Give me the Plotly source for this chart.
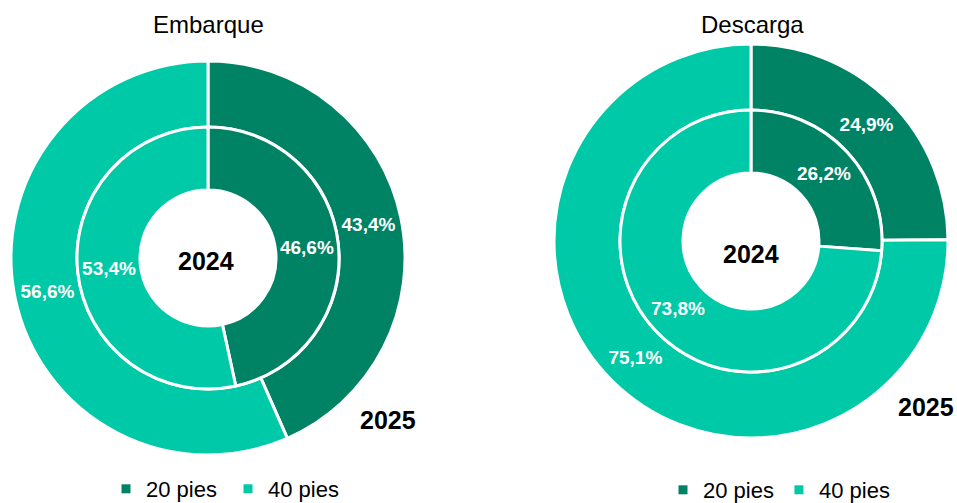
import plotly.graph_objects as go

# ---- data ----
categories = ["20 pies", "40 pies"]
embarque_2025 = [43.4, 56.6]
embarque_2024 = [46.6, 53.4]
descarga_2025 = [24.9, 75.1]
descarga_2024 = [26.2, 73.8]
panel_titles = ["Embarque", "Descarga"]
ring_labels = ["2024", "2025"]

colors = ["#008264", "#00C9A7"]
W, H = 957, 503


def fmt(vals):
    return [f"{v:.1f}".replace(".", ",") + "%" for v in vals]


def px(x, y):
    return x / W, 1 - y / H


def dom(cx, cy, r):
    x0, y1 = px(cx - r, cy - r)
    x1, y0 = px(cx + r, cy + r)
    return dict(x=[x0, x1], y=[y0, y1])


fig = go.Figure()

R_OUT, R_MID, R_IN = 197, 131, 68
panels = [
    (208, 258, embarque_2025, embarque_2024),
    (751, 241, descarga_2025, descarga_2024),
]

pctfont = dict(family="Liberation Sans, Arial", size=19, color="white", weight="bold")
for cx, cy, outer, inner in panels:
    fig.add_trace(go.Pie(
        labels=categories, values=outer, text=fmt(outer), textinfo="text",
        hole=R_MID / R_OUT, domain=dom(cx, cy, R_OUT), sort=False, direction="clockwise",
        rotation=0, marker=dict(colors=colors, line=dict(color="white", width=3)),
        textposition="inside", insidetextorientation="horizontal",
        textfont=pctfont, showlegend=False, hoverinfo="label+text",
    ))
    fig.add_trace(go.Pie(
        labels=categories, values=inner, text=fmt(inner), textinfo="text",
        hole=R_IN / R_MID, domain=dom(cx, cy, R_MID), sort=False, direction="clockwise",
        rotation=0, marker=dict(colors=colors, line=dict(color="white", width=3)),
        textposition="inside", insidetextorientation="horizontal",
        textfont=pctfont, showlegend=False, hoverinfo="label+text",
    ))

# legend entries (two legends, one per panel)
for leg in ["legend", "legend2"]:
    for name, c in zip(categories, colors):
        fig.add_trace(go.Scatter(
            x=[None], y=[None], mode="markers", name=name,
            marker=dict(symbol="square", size=9, color=c),
            legend=leg, showlegend=True,
        ))

annotations = []
titlefont = dict(family="Liberation Sans, Arial", size=24, color="#000000")
for (x, y), t in zip([(208, 25), (752, 25)], panel_titles):
    ax, ay = px(x, y)
    annotations.append(dict(text=t, x=ax, y=ay, xref="paper", yref="paper",
                            xanchor="center", yanchor="middle", showarrow=False, font=titlefont))
bold = dict(family="Liberation Sans, Arial", size=25, color="#000000", weight="bold")
for x, y, t in [(206, 261, ring_labels[0]), (388, 420, ring_labels[1]),
                (751, 254, ring_labels[0]), (926, 407, ring_labels[1])]:
    ax, ay = px(x, y)
    annotations.append(dict(text=t, x=ax, y=ay, xref="paper", yref="paper",
                            xanchor="center", yanchor="middle", showarrow=False, font=bold))

legfont = dict(family="Liberation Sans, Arial", size=22, color="#000000")
l1x, l1y = px(228, 489)
l2x, l2y = px(779, 490)
fig.update_layout(
    width=W, height=H, autosize=False,
    margin=dict(l=0, r=0, t=0, b=0, pad=0, autoexpand=False),
    paper_bgcolor="white", plot_bgcolor="white",
    xaxis=dict(visible=False), yaxis=dict(visible=False),
    annotations=annotations,
    legend=dict(orientation="h", x=l1x, y=l1y, xanchor="center", yanchor="middle",
                font=legfont, bgcolor="rgba(0,0,0,0)", itemwidth=30, entrywidth=77),
    legend2=dict(orientation="h", x=l2x, y=l2y, xanchor="center", yanchor="middle",
                 font=legfont, bgcolor="rgba(0,0,0,0)", itemwidth=30),
)

fig.write_html(
    "out.html",
    config={"displayModeBar": False},
    post_script="document.body.style.margin='0';document.body.style.overflow='hidden';",
)
